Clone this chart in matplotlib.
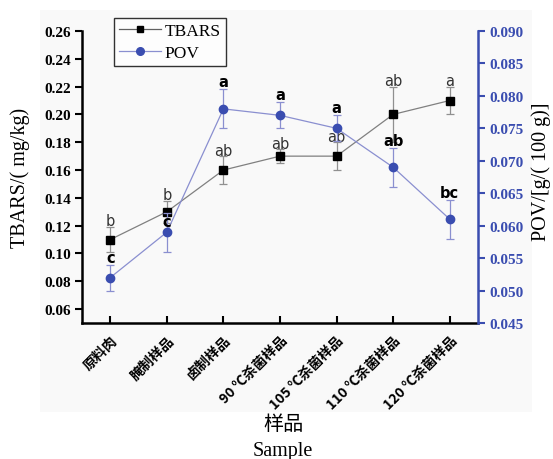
import matplotlib
matplotlib.use("Agg")
import matplotlib.pyplot as plt
import matplotlib.transforms as mtransforms
from matplotlib.patches import Rectangle
from matplotlib.lines import Line2D

categories = ["原料肉", "腌制样品", "卤制样品", "90 ℃杀菌样品", "105 ℃杀菌样品", "110 ℃杀菌样品", "120 ℃杀菌样品"]
tbars = [0.110, 0.130, 0.160, 0.170, 0.170, 0.200, 0.210]
tbars_err = [0.009, 0.008, 0.010, 0.005, 0.010, 0.020, 0.010]
tbars_letters = ["b", "b", "ab", "ab", "ab", "ab", "a"]
pov = [0.052, 0.059, 0.078, 0.077, 0.075, 0.069, 0.061]
pov_err = [0.002, 0.003, 0.003, 0.002, 0.002, 0.003, 0.003]
pov_letters = ["c", "c", "a", "a", "a", "ab", "bc"]
left_ticks = [0.06, 0.08, 0.10, 0.12, 0.14, 0.16, 0.18, 0.20, 0.22, 0.24, 0.26]
right_ticks = [0.045, 0.050, 0.055, 0.060, 0.065, 0.070, 0.075, 0.080, 0.085, 0.090]

SERIF = ["Liberation Serif", "DejaVu Serif"]
CJK = ["Noto Sans CJK SC", "DejaVu Sans"]
BLUE = "#3a4db0"
LBLUE = "#8a8fd0"

fig = plt.figure(figsize=(5.53, 4.60), dpi=100)
bg = Rectangle((40/553, 1-413/460), (532-40)/553, (413-11)/460,
               transform=fig.transFigure, facecolor="#f9f9f9", edgecolor="none", zorder=-10)
fig.patches.append(bg)
ax = fig.add_axes([82/553, 1-324/460, (478-82)/553, (324-32)/460])
ax.set_facecolor("none")
ax2 = ax.twinx()
ax2.set_facecolor("none")
x = list(range(len(categories)))

ax.errorbar(x, tbars, yerr=tbars_err, color="#808080", lw=0.9, marker="s", ms=5.5,
            mfc="black", mec="black", ecolor="#909090", elinewidth=0.9, capsize=3, capthick=0.9)
for xi, v, e, t in zip(x, tbars, tbars_err, tbars_letters):
    ax.annotate(t, (xi, v + e), xytext=(0, -1), textcoords="offset points",
                ha="center", va="bottom", fontsize=10.5, color="#333333", family="DejaVu Sans")

ax2.errorbar(x, pov, yerr=pov_err, color=LBLUE, lw=0.9, marker="o", ms=6,
             mfc=BLUE, mec=BLUE, ecolor=LBLUE, elinewidth=0.9, capsize=3, capthick=0.9)
for i, (xi, v, e, t) in enumerate(zip(x, pov, pov_err, pov_letters)):
    if i == 1:
        # in the reference this label sits just under the TBARS marker
        ax2.annotate(t, (xi, v), xytext=(0, 7.5), textcoords="offset points",
                     ha="center", va="center", fontsize=10.5, color="black",
                     family="DejaVu Sans", fontweight="bold")
    else:
        ax2.annotate(t, (xi, v + e), xytext=(0, 0), textcoords="offset points",
                     ha="center", va="bottom", fontsize=10.5, color="black",
                     family="DejaVu Sans", fontweight="bold")

ax.set_xlim(-0.5, 6.5)
ax.set_ylim(0.05, 0.26)
ax2.set_ylim(0.045, 0.090)
ax.set_yticks(left_ticks)
ax.set_yticklabels([f"{t:.2f}" for t in left_ticks], family=SERIF, fontweight="bold", fontsize=11)
ax2.set_yticks(right_ticks)
ax2.set_yticklabels([f"{t:.3f}" for t in right_ticks], family=SERIF, fontweight="bold",
                    fontsize=11, color=BLUE)
ax.set_xticks(x)
ax.set_xticklabels(categories, rotation=45, ha="right", rotation_mode="anchor",
                   family=CJK, fontweight="bold", fontsize=10)
shift = mtransforms.ScaledTranslation(5/100, 0, fig.dpi_scale_trans)
for lab in ax.get_xticklabels():
    lab.set_transform(lab.get_transform() + shift)

for a in (ax, ax2):
    a.spines["top"].set_visible(False)
    for s in a.spines.values():
        s.set_linewidth(1.8)
ax.spines["right"].set_visible(False)
ax2.spines["left"].set_visible(False)
ax2.spines["bottom"].set_visible(False)
ax2.spines["right"].set_color(BLUE)
ax.tick_params(axis="y", direction="out", length=5, width=1.5, pad=3)
ax.tick_params(axis="x", direction="in", length=5, width=1.5, pad=7)
ax2.tick_params(axis="y", direction="out", length=5, width=1.5, color=BLUE, pad=3)

fig.text(20/553, 1-178/460, "TBARS/( mg/kg)", rotation=90, ha="center", va="center",
         family=SERIF, fontsize=14.5)
fig.text(541/553, 1-172/460, "POV/[g/( 100 g)]", rotation=90, ha="center", va="center",
         family=SERIF, fontsize=14.5)

fig.text(283/553, 1-425/460, "样品", ha="center", va="center", fontsize=14.5, family=CJK)
fig.text(283/553, 1-452/460, "Sample", ha="center", va="center", fontsize=14.5, family=SERIF)

h1 = Line2D([], [], color="#606060", lw=0.9, marker="s", ms=5, mfc="black", mec="black")
h2 = Line2D([], [], color=LBLUE, lw=0.9, marker="o", ms=5.5, mfc=BLUE, mec=BLUE)
leg = ax.legend(handles=[h1, h2], labels=["TBARS", "POV"], loc="upper left",
                bbox_to_anchor=(32/396, 1.045),
                prop={"family": SERIF, "size": 12.5}, frameon=True, fancybox=False,
                edgecolor="black", handlelength=2.4, borderpad=0.3, labelspacing=0.3,
                handletextpad=0.2, borderaxespad=0)
leg.get_frame().set_linewidth(1.0)
leg.get_frame().set_facecolor("white")

fig.savefig("out.png", dpi=100)
